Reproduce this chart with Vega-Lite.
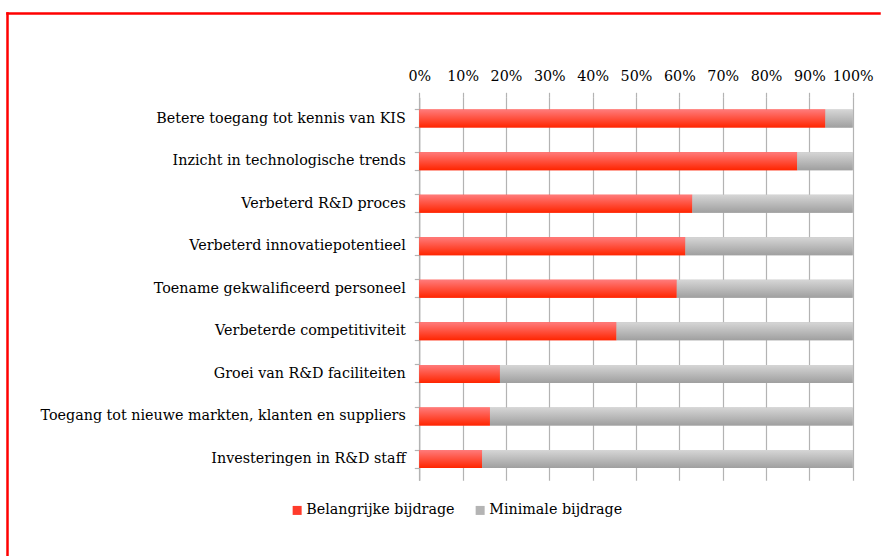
{
  "$schema": "https://vega.github.io/schema/vega-lite/v6.json",
  "width": 872,
  "height": 543,
  "autosize": "none",
  "padding": {"left": 7, "top": 13, "right": 6, "bottom": 0},
  "background": "white",
  "view": {"stroke": null, "fill": "white"},
  "config": {"font": "DejaVu Serif"},
  "data": {
    "values": [
      {"item": "Betere toegang tot kennis van KIS", "type": "Belangrijke bijdrage", "value": 0.937},
      {"item": "Betere toegang tot kennis van KIS", "type": "Minimale bijdrage", "value": 0.063},
      {"item": "Inzicht in technologische trends", "type": "Belangrijke bijdrage", "value": 0.872},
      {"item": "Inzicht in technologische trends", "type": "Minimale bijdrage", "value": 0.128},
      {"item": "Verbeterd R&D proces", "type": "Belangrijke bijdrage", "value": 0.630},
      {"item": "Verbeterd R&D proces", "type": "Minimale bijdrage", "value": 0.370},
      {"item": "Verbeterd innovatiepotentieel", "type": "Belangrijke bijdrage", "value": 0.614},
      {"item": "Verbeterd innovatiepotentieel", "type": "Minimale bijdrage", "value": 0.386},
      {"item": "Toename gekwalificeerd personeel", "type": "Belangrijke bijdrage", "value": 0.594},
      {"item": "Toename gekwalificeerd personeel", "type": "Minimale bijdrage", "value": 0.406},
      {"item": "Verbeterde competitiviteit", "type": "Belangrijke bijdrage", "value": 0.455},
      {"item": "Verbeterde competitiviteit", "type": "Minimale bijdrage", "value": 0.545},
      {"item": "Groei van R&D faciliteiten", "type": "Belangrijke bijdrage", "value": 0.186},
      {"item": "Groei van R&D faciliteiten", "type": "Minimale bijdrage", "value": 0.814},
      {"item": "Toegang tot nieuwe markten, klanten en suppliers", "type": "Belangrijke bijdrage", "value": 0.163},
      {"item": "Toegang tot nieuwe markten, klanten en suppliers", "type": "Minimale bijdrage", "value": 0.837},
      {"item": "Investeringen in R&D staff", "type": "Belangrijke bijdrage", "value": 0.145},
      {"item": "Investeringen in R&D staff", "type": "Minimale bijdrage", "value": 0.855}
    ]
  },
  "layer": [
    {
      "mark": {"type": "bar"},
      "encoding": {
        "y": {
          "field": "item", "type": "nominal", "sort": null,
          "scale": {"range": [84.3, 467.3], "paddingInner": 0.577, "paddingOuter": 0.2885},
          "axis": {
            "orient": "left", "offset": -412.3, "title": null, "grid": false,
            "domain": true, "domainColor": "#b3b3b3", "domainWidth": 1.2,
            "ticks": true, "bandPosition": 0, "tickSize": 5, "tickColor": "#b3b3b3", "tickWidth": 1.2,
            "labelPadding": 9, "labelFontSize": 14.3, "labelColor": "#000000", "labelLimit": 0
          }
        },
        "x": {
          "field": "value", "type": "quantitative", "stack": "zero",
          "scale": {"domain": [0, 1], "range": [412.3, 845.7], "nice": false},
          "axis": {
            "orient": "top", "offset": -84.3, "title": null, "format": ".0%",
            "values": [0, 0.1, 0.2, 0.3, 0.4, 0.5, 0.6, 0.7, 0.8, 0.9, 1],
            "domain": false, "ticks": true, "tickSize": 5, "tickColor": "#b3b3b3", "tickWidth": 1.2,
            "grid": true, "gridColor": "#b3b3b3", "gridWidth": 1.2, "gridOpacity": 1,
            "labelPadding": 9, "labelFontSize": 14.3, "labelColor": "#000000", "labelFlush": false
          }
        },
        "color": {
          "field": "type", "type": "nominal",
          "scale": {
            "domain": ["Belangrijke bijdrage", "Minimale bijdrage"],
            "range": ["#ff3b2b", "#b4b4b4"]
          },
          "legend": {
            "title": null, "orient": "none", "direction": "horizontal",
            "legendX": 283, "legendY": 490,
            "symbolType": "square", "symbolSize": 81, "symbolStrokeWidth": 0,
            "labelFontSize": 14.3, "labelColor": "#000000", "labelOffset": 2,
            "columnPadding": 18, "labelLimit": 0
          }
        }
      }
    },
    {
      "mark": {"type": "bar"},
      "encoding": {
        "y": {
          "field": "item", "type": "nominal", "sort": null,
          "scale": {"range": [84.3, 467.3], "paddingInner": 0.577, "paddingOuter": 0.2885},
          "axis": null
        },
        "x": {
          "field": "value", "type": "quantitative", "stack": "zero",
          "scale": {"domain": [0, 1], "range": [412.3, 845.7], "nice": false},
          "axis": null
        },
        "fill": {
          "condition": {
            "test": "datum.type === 'Belangrijke bijdrage'",
            "value": {"gradient": "linear", "x1": 0, "y1": 0, "x2": 0, "y2": 1, "stops": [{"offset": 0, "color": "#ff7b7b"}, {"offset": 1, "color": "#ff2500"}]}
          },
          "value": {"gradient": "linear", "x1": 0, "y1": 0, "x2": 0, "y2": 1, "stops": [{"offset": 0, "color": "#d6d6d6"}, {"offset": 1, "color": "#9f9f9f"}]}
        }
      }
    },
    {
      "mark": {"type": "bar", "opacity": 0},
      "encoding": {
        "y": {
          "field": "item", "type": "nominal", "sort": null,
          "scale": {"range": [84.3, 467.3], "paddingInner": 0.577, "paddingOuter": 0.2885},
          "axis": {
            "orient": "left", "offset": -412.3, "title": null, "grid": false,
            "domain": false, "labels": false,
            "ticks": true, "bandPosition": 1, "tickSize": 5, "tickColor": "#b3b3b3", "tickWidth": 1.2
          }
        }
      }
    },
    {
      "mark": {"type": "bar", "opacity": 0},
      "encoding": {
        "y": {
          "field": "item", "type": "nominal", "sort": null,
          "axis": {
            "orient": "left", "offset": 0, "title": null, "grid": false,
            "labels": false, "ticks": false,
            "domain": true, "domainColor": "#ff0000", "domainWidth": 2.5, "domainCap": "square"
          }
        },
        "x": {
          "field": "value", "type": "quantitative",
          "scale": {"domain": [0, 1], "nice": false},
          "axis": {
            "orient": "top", "offset": 0, "title": null, "grid": false,
            "labels": false, "ticks": false,
            "domain": true, "domainColor": "#ff0000", "domainWidth": 2.5, "domainCap": "square"
          }
        }
      }
    }
  ],
  "resolve": {
    "scale": {"x": "independent", "y": "independent"},
    "axis": {"x": "independent", "y": "independent"}
  }
}
